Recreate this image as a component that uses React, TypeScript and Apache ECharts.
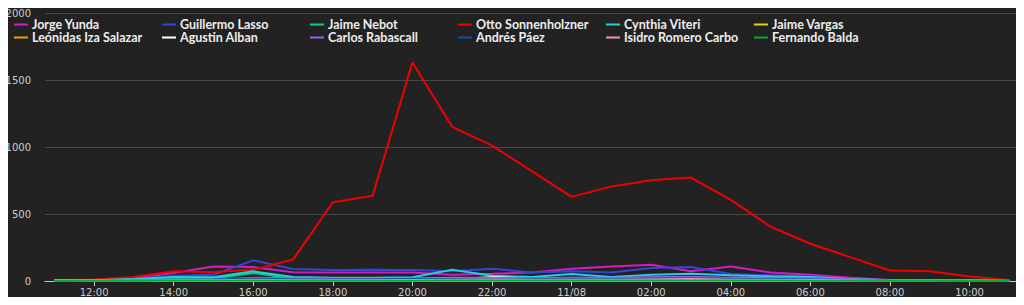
import React, { useEffect, useRef } from "react";
import * as echarts from "echarts";

const startHour = new Date(2022, 10, 7, 11, 0, 0).getTime();
const HOUR = 3600 * 1000;
const pointCount = 25;
const times = Array.from({ length: pointCount }, (_, i) => startHour + i * HOUR);

const names = [
  "Jorge Yunda",
  "Guillermo Lasso",
  "Jaime Nebot",
  "Otto Sonnenholzner",
  "Cynthia Viteri",
  "Jaime Vargas",
  "Leónidas Iza Salazar",
  "Agustin Alban",
  "Carlos Rabascall",
  "Andrés Páez",
  "Isidro Romero Carbo",
  "Fernando Balda",
];

const colors = [
  "#d21cc4",
  "#3346d4",
  "#00d27a",
  "#f00000",
  "#1fd0e0",
  "#ecd000",
  "#ff9a00",
  "#ffffff",
  "#a45cf0",
  "#0a55a8",
  "#ff8acb",
  "#00b030",
];

const jorgeYunda = [2, 8, 25, 60, 108, 104, 65, 64, 64, 64, 47, 54, 64, 92, 108, 122, 72, 108, 64, 47, 25, 8, 5, 3, 1];
const guillermoLasso = [1, 5, 15, 40, 47, 154, 90, 82, 84, 82, 72, 92, 64, 72, 64, 97, 104, 52, 42, 34, 15, 5, 3, 2, 1];
const jaimeNebot = [1, 3, 10, 20, 18, 60, 18, 15, 15, 15, 20, 15, 15, 20, 20, 25, 28, 20, 18, 15, 8, 3, 2, 1, 0];
const ottoSonnenholzner = [5, 12, 30, 72, 65, 85, 160, 588, 636, 1630, 1150, 1010, 820, 628, 706, 752, 772, 605, 405, 278, 178, 78, 72, 34, 5];
const cynthiaViteri = [1, 5, 15, 30, 28, 72, 30, 25, 25, 28, 84, 40, 30, 52, 30, 47, 54, 42, 35, 30, 15, 5, 3, 2, 1];
const jaimeVargas = [1, 2, 2, 3, 3, 4, 3, 3, 3, 3, 4, 4, 4, 4, 4, 4, 5, 4, 4, 3, 2, 1, 1, 0, 0];
const leonidasIza = [5, 6, 4, 5, 4, 6, 4, 4, 4, 5, 5, 5, 5, 5, 5, 6, 6, 5, 5, 4, 3, 2, 1, 1, 0];
const agustinAlban = [0, 4, 4, 5, 3, 8, 5, 5, 6, 8, 15, 28, 18, 10, 10, 12, 25, 15, 12, 10, 6, 3, 2, 1, 0];
const carlosRabascall = [0, 2, 5, 10, 12, 25, 20, 18, 18, 20, 25, 22, 22, 25, 25, 28, 30, 25, 25, 20, 15, 5, 3, 2, 1];
const andresPaez = [0, 2, 5, 10, 12, 18, 12, 12, 12, 14, 15, 14, 14, 16, 15, 18, 20, 16, 14, 12, 8, 3, 2, 1, 0];
const isidroRomero = [0, 1, 3, 5, 6, 10, 6, 6, 6, 8, 10, 12, 10, 10, 10, 12, 14, 10, 10, 8, 5, 2, 1, 1, 0];
const fernandoBalda = [0, 1, 1, 2, 2, 3, 2, 2, 2, 2, 3, 3, 3, 3, 3, 3, 3, 3, 3, 2, 2, 1, 1, 0, 0];

const seriesValues = [
  jorgeYunda,
  guillermoLasso,
  jaimeNebot,
  ottoSonnenholzner,
  cynthiaViteri,
  jaimeVargas,
  leonidasIza,
  agustinAlban,
  carlosRabascall,
  andresPaez,
  isidroRomero,
  fernandoBalda,
];

const yTicks = { min: 0, max: 2000, interval: 500 };

const pad = (n: number) => (n < 10 ? "0" + n : "" + n);

export default function App() {
  const ref = useRef<HTMLDivElement>(null);
  useEffect(() => {
    if (!ref.current) return;
    const chart = echarts.init(ref.current, null, { renderer: "svg" });
    const axisFont = "DejaVu Sans";
    chart.setOption({
      animation: false,
      backgroundColor: "#222222",
      color: colors,
      legend: {
        left: 9,
        top: 13,
        width: 910,
        itemGap: 0,
        itemWidth: 14,
        itemHeight: 2,
        icon: "rect",
        data: names,
        textStyle: {
          color: "#eeeeee",
          fontFamily: "Lato",
          fontWeight: "bold",
          fontSize: 12.5,
          width: 130,
          lineHeight: 13,
          padding: [0, 0, 0, -1],
        },
      },
      grid: { left: 45, right: 8, top: 13, bottom: 24, containLabel: false },
      xAxis: {
        type: "time",
        min: startHour - 14 * 60 * 1000,
        max: startHour + 24 * HOUR + 10 * 60 * 1000,
        splitNumber: 10,
        minInterval: 2.5 * HOUR,
        maxInterval: 3 * HOUR,
        axisLine: { lineStyle: { color: "#cccccc", width: 1 } },
        axisTick: { show: true, length: 5, lineStyle: { color: "#cccccc" } },
        splitLine: { show: false },
        axisLabel: {
          color: "#cccccc",
          fontFamily: axisFont,
          fontSize: 10,
          margin: 6,
          showMinLabel: false,
          showMaxLabel: false,
          hideOverlap: false,
          formatter: (v: number) => {
            const d = new Date(v);
            if (d.getHours() === 0 && d.getMinutes() === 0) {
              return pad(d.getMonth() + 1) + "/" + pad(d.getDate());
            }
            return pad(d.getHours()) + ":" + pad(d.getMinutes());
          },
        },
      },
      yAxis: {
        type: "value",
        min: yTicks.min,
        max: yTicks.max,
        interval: yTicks.interval,
        axisLine: { show: false },
        axisTick: { show: false },
        splitLine: { lineStyle: { color: "#484848", width: 1 } },
        axisLabel: {
          color: "#cccccc",
          fontFamily: axisFont,
          fontSize: 10,
          margin: 14,
          formatter: (v: number) => String(v),
        },
      },
      series: names.map((name, i) => ({
        name,
        type: "line",
        showSymbol: false,
        symbol: "none",
        lineStyle: { width: 2, color: colors[i] },
        itemStyle: { color: colors[i] },
        data: times.map((t, j) => [t, seriesValues[i][j]]),
      })),
    });
    return () => chart.dispose();
  }, []);
  return <div ref={ref} style={{ width: 1024, height: 305, margin: -8 }} />;
}
